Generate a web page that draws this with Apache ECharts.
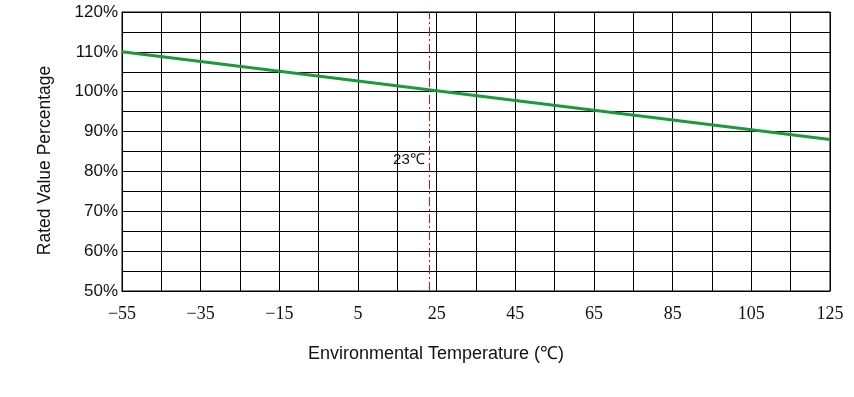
<!DOCTYPE html>
<html>
<head>
<meta charset="utf-8">
<script src="https://cdn.jsdelivr.net/npm/echarts@6/dist/echarts.min.js"></script>
<style>
  html, body { margin: 0; padding: 0; background: #ffffff; }
  #chart { width: 854px; height: 397px; }
</style>
</head>
<body>
<div id="chart"></div>
<script>
const TEMPS = [-55, 125];
const RATED_PCT = [110, 88];
const MARK_TEMP = 23;
const MARK_LABEL_PCT = 83;
const X_NAME = "Environmental Temperature (\u2103)";
const Y_NAME = "Rated Value Percentage";

const chart = echarts.init(document.getElementById("chart"), null, { renderer: "canvas" });

chart.setOption({
  backgroundColor: "#ffffff",
  animation: false,
  grid: { left: 122, right: 24, top: 12, bottom: 106, show: true, borderColor: "#000", borderWidth: 1 },
  xAxis: {
    type: "value",
    min: -55,
    max: 125,
    interval: 10,
    name: X_NAME,
    nameLocation: "middle",
    nameGap: 54,
    nameTextStyle: { color: "#111", fontSize: 18, fontFamily: "Liberation Sans", padding: [0, 80, 0, 0] },
    axisLine: { onZero: false, lineStyle: { color: "#000", width: 1 } },
    axisTick: { show: false },
    axisLabel: {
      color: "#111",
      fontSize: 18,
      fontFamily: "Liberation Serif",
      margin: 14,
      formatter: (v) => ((v + 55) % 20 === 0 ? String(v).replace("-", "\u2212") : ""),
    },
    splitLine: { show: true, lineStyle: { color: "#000", width: 1 } },
  },
  yAxis: {
    type: "value",
    min: 50,
    max: 120,
    interval: 5,
    name: Y_NAME,
    nameLocation: "middle",
    nameGap: 68,
    nameTextStyle: { color: "#111", fontSize: 17.5, fontFamily: "Liberation Sans", padding: [0, 18, 0, 0] },
    axisLine: { show: true, onZero: false, lineStyle: { color: "#000", width: 1 } },
    axisTick: { show: false },
    axisLabel: {
      color: "#111",
      fontSize: 17,
      fontFamily: "Liberation Sans",
      margin: 4,
      formatter: (v) => (v % 10 === 0 ? `${v}%` : ""),
    },
    splitLine: { show: true, lineStyle: { color: "#000", width: 1 } },
  },
  series: [
    {
      type: "line",
      data: TEMPS.map((t, i) => [t, RATED_PCT[i]]),
      symbol: "none",
      lineStyle: { color: "#1b9a3c", width: 3 },
      z: 5,
      markLine: {
        silent: true,
        symbol: "none",
        label: { show: false },
        lineStyle: { color: "#d0101a", width: 1, type: [9, 3, 2, 3] },
        data: [{ xAxis: MARK_TEMP }],
      },
      markPoint: {
        silent: true,
        symbol: "circle",
        symbolSize: 0,
        label: {
          show: true,
          position: "left",
          distance: 4,
          formatter: `${MARK_TEMP}\u2103`,
          color: "#111",
          fontSize: 15,
          fontFamily: "Liberation Sans",
        },
        data: [{ coord: [MARK_TEMP, MARK_LABEL_PCT] }],
      },
    },
  ],
});
</script>
</body>
</html>
